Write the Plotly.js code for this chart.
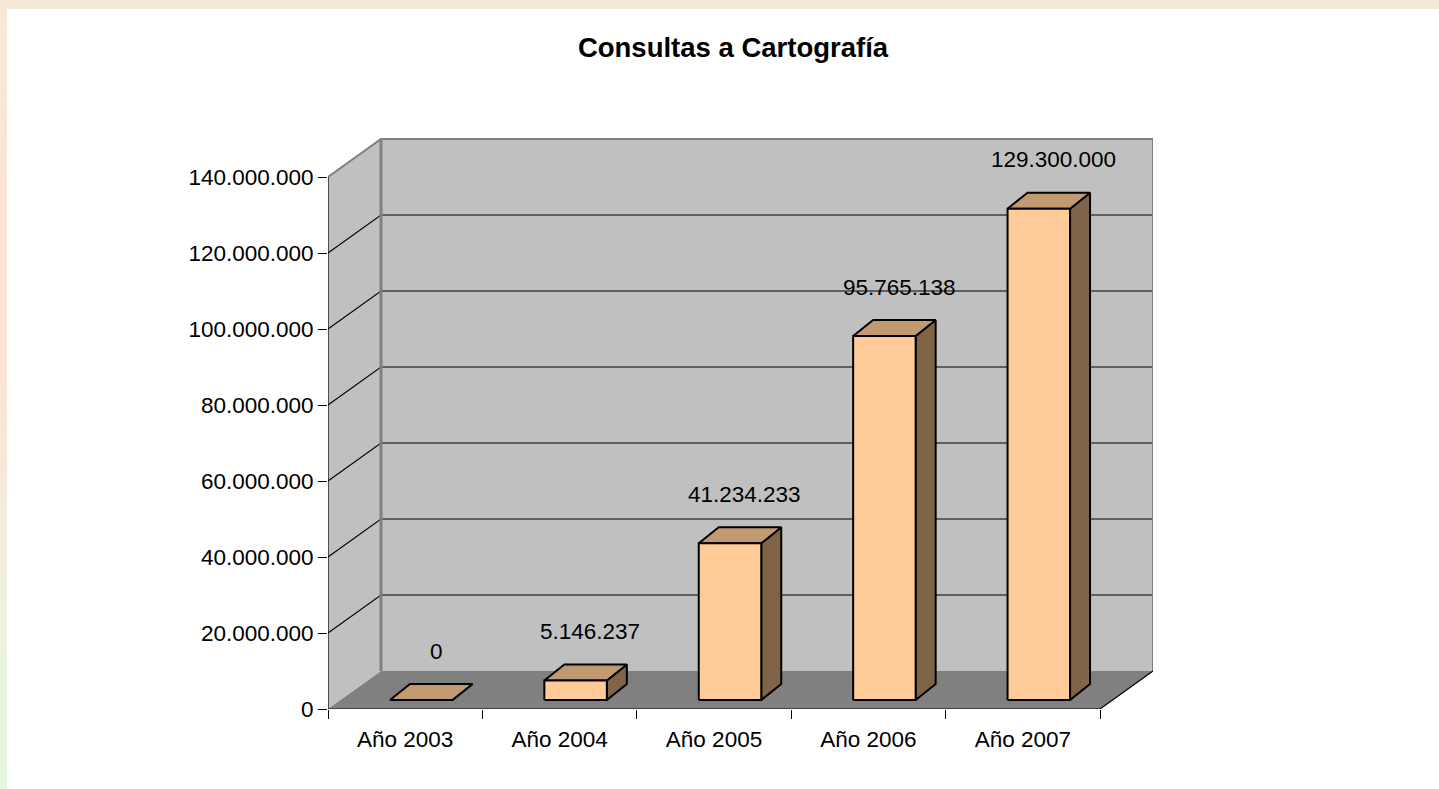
<!DOCTYPE html>
<html>
<head>
<meta charset="utf-8">
<script src="https://cdn.plot.ly/plotly-3.0.1.min.js"></script>
<style>
  html, body { margin: 0; padding: 0; background: #ffffff; width: 1439px; height: 789px; overflow: hidden; }
  #frameTop { position: absolute; left: 0; top: 0; width: 1439px; height: 9px; background: #F5EAD6; }
  #frameLeft { position: absolute; left: 0; top: 0; width: 7px; height: 789px;
    background: linear-gradient(to bottom, #F5EAD6 0%, #FCE4D2 22%, #FDE3D1 45%, #F4EBD9 65%, #EAF5DE 85%, #E5F7DE 100%); }
  #chart { position: absolute; left: 0; top: 0; width: 1439px; height: 789px; }
</style>
</head>
<body>
<div id="frameTop"></div>
<div id="frameLeft"></div>
<div id="chart"></div>
<script>
// ---- data ----
const categories = ['Año 2003', 'Año 2004', 'Año 2005', 'Año 2006', 'Año 2007'];
const consultas = [0, 5146237, 41234233, 95765138, 129300000];
const yTickValues = [0, 20000000, 40000000, 60000000, 80000000, 100000000, 120000000, 140000000];
const chartTitle = 'Consultas a Cartografía';

// ---- helpers ----
function fmt(n) { return String(Math.round(n)).replace(/\B(?=(\d{3})+(?!\d))/g, '.'); }

// oblique projection styling (in axis units)
const WALL_DX = 53 / 154.4;      // depth of the walls, x units
const WALL_DY = 38 / 3.8e-6;     // depth of the walls, y units
const BAR_FX = 16 / 154.4;       // bar front face offset
const BAR_FY = 9 / 3.8e-6;
const BAR_W = 62.5 / 154.4;      // bar width
const BAR_DX = 20 / 154.4;       // bar depth
const BAR_DY = 16 / 3.8e-6;
const LABEL_DX = 0.2;

const yMax = yTickValues[yTickValues.length - 1];
const n = categories.length;
const xL = -0.5, xR = n - 0.5;

function polys(list) {
  const x = [], y = [];
  list.forEach((p, k) => {
    if (k > 0) { x.push(null); y.push(null); }
    p.forEach(pt => { x.push(pt[0]); y.push(pt[1]); });
  });
  return { x, y };
}
function fillTrace(list, color, lineColor, lineWidth) {
  const d = polys(list);
  return {
    type: 'scatter', mode: lineWidth ? 'lines' : 'none', x: d.x, y: d.y,
    fill: 'toself', fillcolor: color,
    line: { color: lineColor || color, width: lineWidth || 0 },
    hoverinfo: 'skip', showlegend: false
  };
}
function lineTrace(list, color, width) {
  const d = polys(list);
  return {
    type: 'scatter', mode: 'lines', x: d.x, y: d.y,
    line: { color: color, width: width }, hoverinfo: 'skip', showlegend: false, connectgaps: false
  };
}

const traces = [];
// walls and floor
traces.push(fillTrace([[[xL, 0], [xL, yMax], [xL + WALL_DX, yMax + WALL_DY], [xL + WALL_DX, WALL_DY], [xL, 0]]], '#C0C0C0'));
traces.push(fillTrace([[[xL + WALL_DX, WALL_DY], [xR + WALL_DX, WALL_DY], [xR + WALL_DX, yMax + WALL_DY], [xL + WALL_DX, yMax + WALL_DY], [xL + WALL_DX, WALL_DY]]], '#C0C0C0'));
traces.push(fillTrace([[[xL, 0], [xR, 0], [xR + WALL_DX, WALL_DY], [xL + WALL_DX, WALL_DY], [xL, 0]]], '#808080'));

// gridlines
const grid = yTickValues.filter(v => v > 0 && v < yMax).map(v => [[xL, v], [xL + WALL_DX, v + WALL_DY], [xR + WALL_DX, v + WALL_DY]]);
traces.push(lineTrace(grid, '#000000', 1.1));

// wall edges
traces.push(lineTrace([[[xL, yMax], [xL + WALL_DX, yMax + WALL_DY], [xR + WALL_DX, yMax + WALL_DY], [xR + WALL_DX, WALL_DY]]], '#808080', 2));
traces.push(lineTrace([[[xL + WALL_DX, WALL_DY], [xL + WALL_DX, yMax + WALL_DY]]], '#808080', 3));

// front axis lines and floor right edge
traces.push(lineTrace([[[xL, yMax], [xL, 0], [xR, 0], [xR + WALL_DX, WALL_DY]]], '#000000', 1.2));

// bars
const sides = [], tops = [], fronts = [];
consultas.forEach((v, i) => {
  const x0 = i - BAR_W / 2 + BAR_FX, x1 = i + BAR_W / 2 + BAR_FX;
  const yb = BAR_FY, yt = v + BAR_FY;
  sides.push([[x1, yb], [x1 + BAR_DX, yb + BAR_DY], [x1 + BAR_DX, yt + BAR_DY], [x1, yt], [x1, yb]]);
  tops.push([[x0, yt], [x1, yt], [x1 + BAR_DX, yt + BAR_DY], [x0 + BAR_DX, yt + BAR_DY], [x0, yt]]);
  fronts.push([[x0, yb], [x1, yb], [x1, yt], [x0, yt], [x0, yb]]);
});
traces.push(fillTrace(sides, '#806448', '#000000', 2));
traces.push(fillTrace(tops, '#C19A72', '#000000', 2));
traces.push(fillTrace(fronts, '#FFCC99', '#000000', 2));

const font = { family: '"Liberation Sans", Arial, sans-serif', color: '#000000' };

const annotations = consultas.map((v, i) => ({
  x: i + LABEL_DX, y: v + BAR_FY + BAR_DY, xref: 'x', yref: 'y',
  text: fmt(v), showarrow: false, yanchor: 'middle', xanchor: 'center', yshift: 33,
  font: Object.assign({ size: 22.5 }, font)
}));

const minorVals = [];
for (let k = 0; k <= n; k++) minorVals.push(k - 0.5);

const layout = {
  width: 1439, height: 789,
  margin: { l: 328, r: 1439 - 1153, t: 138, b: 789 - 709, pad: 0 },
  paper_bgcolor: 'rgba(0,0,0,0)', plot_bgcolor: 'rgba(0,0,0,0)',
  font: Object.assign({ size: 22.5 }, font),
  title: {
    text: '<b>' + chartTitle + '</b>', x: 733 / 1439, xref: 'container', xanchor: 'center',
    y: 1 - 47 / 789, yref: 'container', yanchor: 'middle',
    font: Object.assign({ size: 27.5 }, font)
  },
  xaxis: {
    range: [xL, xR + WALL_DX], showgrid: false, zeroline: false, showline: false,
    tickmode: 'array', tickvals: categories.map((c, i) => i), ticktext: categories,
    ticks: '', ticklabelstandoff: 14, automargin: false, fixedrange: true,
    tickfont: Object.assign({ size: 22.5 }, font),
    minor: { tickmode: 'array', tickvals: minorVals, ticks: 'outside', ticklen: 9, tickwidth: 1, tickcolor: '#000000', showgrid: false }
  },
  yaxis: {
    range: [0, (709 - 138) / 3.8e-6], showgrid: false, zeroline: false, showline: false,
    tickmode: 'array', tickvals: yTickValues, ticktext: yTickValues.map(fmt),
    ticks: 'outside', ticklen: 9, tickwidth: 1, tickcolor: '#000000', automargin: false, fixedrange: true,
    tickfont: Object.assign({ size: 22.5 }, font)
  },
  annotations: annotations,
  showlegend: false, hovermode: false
};

Plotly.newPlot('chart', traces, layout, { displayModeBar: false, staticPlot: true });
</script>
</body>
</html>
